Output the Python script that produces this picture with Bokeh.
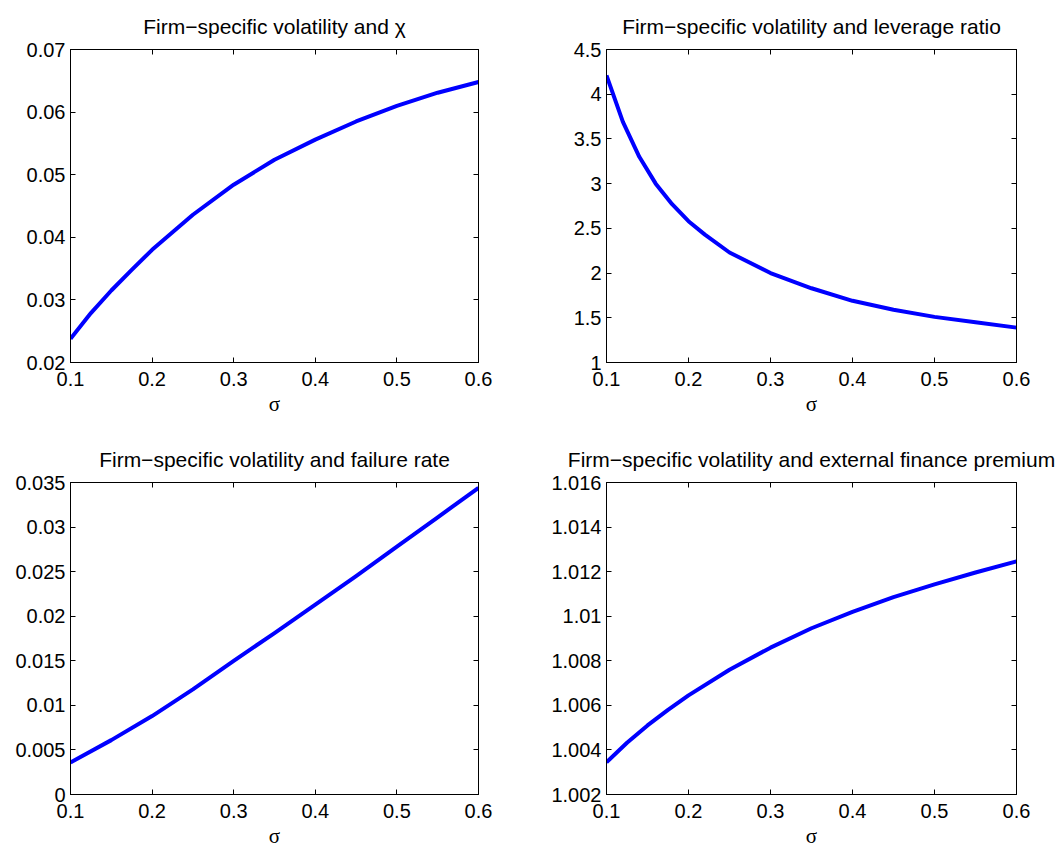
from bokeh.plotting import figure
from bokeh.layouts import gridplot
from bokeh.models import LinearAxis, FixedTicker, Range1d
from bokeh.embed import file_html
from bokeh.resources import INLINE

# ---------------- data ----------------
x_ticks = [0.1, 0.2, 0.3, 0.4, 0.5, 0.6]
x_tick_labels = ["0.1", "0.2", "0.3", "0.4", "0.5", "0.6"]

sigma_chi = [0.10, 0.125, 0.15, 0.175, 0.20, 0.25, 0.30, 0.35, 0.40, 0.45, 0.50, 0.55, 0.60]
chi = [0.0238, 0.0279, 0.0315, 0.0348, 0.0380, 0.0436, 0.0484, 0.0524, 0.0556, 0.0585, 0.0610, 0.0631, 0.0648]
chi_ticks = [0.02, 0.03, 0.04, 0.05, 0.06, 0.07]
chi_tick_labels = ["0.02", "0.03", "0.04", "0.05", "0.06", "0.07"]

sigma_lev = [0.10, 0.12, 0.14, 0.16, 0.18, 0.20, 0.22, 0.25, 0.30, 0.35, 0.40, 0.45, 0.50, 0.55, 0.60]
leverage = [4.21, 3.69, 3.30, 3.00, 2.77, 2.58, 2.43, 2.23, 2.00, 1.83, 1.69, 1.59, 1.51, 1.45, 1.39]
lev_ticks = [1, 1.5, 2, 2.5, 3, 3.5, 4, 4.5]
lev_tick_labels = ["1", "1.5", "2", "2.5", "3", "3.5", "4", "4.5"]

sigma_fail = [0.10, 0.15, 0.20, 0.25, 0.30, 0.35, 0.40, 0.45, 0.50, 0.55, 0.60]
failure = [0.0036, 0.0061, 0.0088, 0.0118, 0.0150, 0.0181, 0.0213, 0.0245, 0.0278, 0.0311, 0.0344]
fail_ticks = [0, 0.005, 0.01, 0.015, 0.02, 0.025, 0.03, 0.035]
fail_tick_labels = ["0", "0.005", "0.01", "0.015", "0.02", "0.025", "0.03", "0.035"]

sigma_prem = [0.10, 0.125, 0.15, 0.175, 0.20, 0.25, 0.30, 0.35, 0.40, 0.45, 0.50, 0.55, 0.60]
premium = [1.00345, 1.00432, 1.00510, 1.00580, 1.00645, 1.00760, 1.00859, 1.00946, 1.01019, 1.01086, 1.01143, 1.01196, 1.01246]
prem_ticks = [1.002, 1.004, 1.006, 1.008, 1.01, 1.012, 1.014, 1.016]
prem_tick_labels = ["1.002", "1.004", "1.006", "1.008", "1.01", "1.012", "1.014", "1.016"]

titles = [
    "Firm\u2212specific volatility and \u03c7",
    "Firm\u2212specific volatility and leverage ratio",
    "Firm\u2212specific volatility and failure rate",
    "Firm\u2212specific volatility and external finance premium",
]
x_label = "\u03c3"

# ---------------- styling ----------------
FONT = "Liberation Sans"
TICK_SIZE = "20px"
TITLE_SIZE = "21px"


def style_axis(ax):
    ax.major_tick_in = 5
    ax.major_tick_out = 0
    ax.minor_tick_in = 0
    ax.minor_tick_out = 0
    ax.axis_line_color = "black"
    ax.axis_line_width = 1
    ax.major_tick_line_color = "black"
    ax.major_tick_line_width = 1
    ax.major_label_text_font = FONT
    ax.major_label_text_color = "black"
    ax.major_label_text_font_size = TICK_SIZE


def tick_only_axis(ticks):
    # mirrored box ticks (top / right) drawn as minor ticks, so no labels exist
    ax = LinearAxis(ticker=FixedTicker(ticks=[], minor_ticks=ticks))
    ax.minor_tick_in = 5
    ax.minor_tick_out = 0
    ax.minor_tick_line_color = "black"
    ax.minor_tick_line_width = 1
    ax.major_tick_in = 0
    ax.major_tick_out = 0
    ax.axis_line_color = "black"
    ax.major_label_standoff = 0
    return ax


def make_panel(title, xs, ys, yticks, ylabels, yrange, borders, height):
    left, right, top, bottom = borders
    p = figure(width=531, height=height, output_backend="svg", toolbar_location=None,
               x_range=Range1d(0.1, 0.6), y_range=Range1d(*yrange),
               min_border_left=left, min_border_right=right,
               min_border_top=top, min_border_bottom=bottom)
    p.background_fill_color = "white"
    p.border_fill_color = "white"
    p.outline_line_color = "black"
    p.outline_line_width = 1
    p.outline_line_alpha = 1
    p.xgrid.visible = False
    p.ygrid.visible = False

    p.line(xs, ys, line_color="#0000ff", line_width=4, line_join="round")

    xa = p.xaxis[0]
    xa.ticker = FixedTicker(ticks=x_ticks)
    xa.major_label_overrides = dict(zip(x_ticks, x_tick_labels))
    style_axis(xa)
    xa.major_label_standoff = 9
    xa.axis_label = x_label
    xa.axis_label_text_font = "Liberation Serif"
    xa.axis_label_text_font_size = "21px"
    xa.axis_label_text_font_style = "normal"
    xa.axis_label_text_color = "black"
    xa.axis_label_standoff = 3

    ya = p.yaxis[0]
    ya.ticker = FixedTicker(ticks=yticks)
    ya.major_label_overrides = dict(zip(yticks, ylabels))
    style_axis(ya)
    ya.major_label_standoff = 5

    p.add_layout(tick_only_axis(yticks), "right")
    p.add_layout(tick_only_axis(x_ticks), "above")

    p.title.text = title
    p.title.align = "center"
    p.title.text_font = FONT
    p.title.text_font_size = TITLE_SIZE
    p.title.text_font_style = "normal"
    p.title.text_color = "black"
    p.title.standoff = 24
    return p


p1 = make_panel(titles[0], sigma_chi, chi, chi_ticks, chi_tick_labels, (0.02, 0.07), (70, 53, 49, 62), 424)
p2 = make_panel(titles[1], sigma_lev, leverage, lev_ticks, lev_tick_labels, (1, 4.5), (75, 46, 49, 62), 424)
p3 = make_panel(titles[2], sigma_fail, failure, fail_ticks, fail_tick_labels, (0, 0.035), (70, 53, 58, 58), 428)
p4 = make_panel(titles[3], sigma_prem, premium, prem_ticks, prem_tick_labels, (1.002, 1.016), (75, 46, 58, 58), 428)

grid = gridplot([[p1, p2], [p3, p4]], toolbar_location=None)

open("out.html", "w").write(file_html(grid, INLINE))
